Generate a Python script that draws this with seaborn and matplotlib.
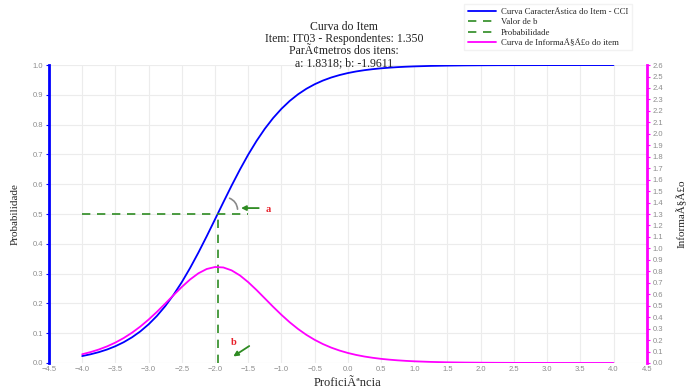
import matplotlib
matplotlib.use("Agg")
import matplotlib.pyplot as plt
import pandas as pd
import seaborn as sns


# values
theta = [-4.0, -3.875, -3.75, -3.625, -3.5, -3.375, -3.25, -3.125, -3.0,
         -2.875, -2.75, -2.625, -2.5, -2.375, -2.25, -2.125, -2.0, -1.875,
         -1.75, -1.625, -1.5, -1.375, -1.25, -1.125, -1.0, -0.875, -0.75,
         -0.625, -0.5, -0.375, -0.25, -0.125, 0.0, 0.125, 0.25, 0.375, 0.5,
         0.625, 0.75, 0.875, 1.0, 1.25, 1.5, 1.75, 2.0, 2.25, 2.5, 3.0, 3.5, 4.0]
prob = [0.0233, 0.0292, 0.0364, 0.0453, 0.0563, 0.0698, 0.0862, 0.1060, 0.1298,
        0.1579, 0.1908, 0.2286, 0.2714, 0.3190, 0.3707, 0.4255, 0.4822, 0.5393,
        0.5955, 0.6492, 0.6995, 0.7453, 0.7863, 0.8222, 0.8532, 0.8797, 0.9019,
        0.9204, 0.9356, 0.9481, 0.9583, 0.9665, 0.9732, 0.9786, 0.9829, 0.9863,
        0.9891, 0.9913, 0.9931, 0.9945, 0.9956, 0.9972, 0.9982, 0.9989, 0.9993,
        0.9996, 0.9997, 0.9999, 1.0, 1.0]
info = [0.0764, 0.0950, 0.1176, 0.1451, 0.1783, 0.2178, 0.2643, 0.3180, 0.3790,
        0.4462, 0.5180, 0.5917, 0.6636, 0.7290, 0.7828, 0.8203, 0.8378, 0.8337,
        0.8083, 0.7642, 0.7053, 0.6370, 0.5638, 0.4905, 0.4203, 0.3551, 0.2969,
        0.2458, 0.2022, 0.1651, 0.1341, 0.1086, 0.0875, 0.0703, 0.0564, 0.0453,
        0.0362, 0.0290, 0.0232, 0.0185, 0.0147, 0.0094, 0.0059, 0.0037, 0.0024,
        0.0015, 0.0009, 0.0004, 0.0002, 0.0001]

b_value = -1.9611
prob_line_x = [-4.0, -1.5]
prob_line_y = [0.5, 0.5]
b_line_x = [b_value, b_value]
b_line_y = [0.0, 0.5]

x_ticks = [-4.5, -4.0, -3.5, -3.0, -2.5, -2.0, -1.5, -1.0, -0.5, 0.0,
           0.5, 1.0, 1.5, 2.0, 2.5, 3.0, 3.5, 4.0, 4.5]
left_ticks = [i / 10 for i in range(11)]
right_ticks = [i / 10 for i in range(27)]

title_lines = [
    "Curva do Item",
    "Item: IT03 - Respondentes: 1.350",
    "ParÃ¢metros dos itens:",
    "a: 1.8318; b: -1.9611",
]

BLUE = "#0000FF"
GREEN = "#2E8B22"
MAGENTA = "#FF00FF"
TICK_GREY = "#8c8c8c"
SERIF = ["Liberation Serif", "DejaVu Serif"]

sns.set_theme(style="white")
plt.rcParams["font.family"] = ["Liberation Sans", "DejaVu Sans"]
plt.rcParams["axes.unicode_minus"] = True

curves = pd.DataFrame({"theta": theta, "prob": prob, "info": info})

fig = plt.figure(figsize=(6.88, 3.92), dpi=100)
ax = fig.add_axes([0.0712, 0.074, 0.8688, 0.760])
ax2 = ax.twinx()

sns.lineplot(data=curves, x="theta", y="prob", color=BLUE, lw=1.3, ax=ax,
             label="Curva CaracterÃstica do Item - CCI", legend=False)
sns.lineplot(x=b_line_x, y=b_line_y, color=GREEN, lw=1.2, ax=ax,
             estimator=None, sort=False, linestyle=(0, (5, 4)),
             label="Valor de b", legend=False)
sns.lineplot(x=prob_line_x, y=prob_line_y, color=GREEN, lw=1.2, ax=ax,
             estimator=None, sort=False, linestyle=(0, (5, 4)),
             label="Probabilidade", legend=False)
sns.lineplot(data=curves, x="theta", y="info", color=MAGENTA, lw=1.3, ax=ax2,
             label="Curva de InformaÃ§Ã£o do item", legend=False)

ax.set_xlim(-4.5, 4.5)
ax.set_ylim(0, 1.0)
ax2.set_ylim(0, 2.6)
ax.set_xticks(x_ticks)
ax.set_yticks(left_ticks)
ax2.set_yticks(right_ticks)
ax.set_xticklabels([f"{t:.1f}".replace("-", "\u2212") for t in x_ticks])
ax.set_yticklabels([f"{t:.1f}" for t in left_ticks])
ax2.set_yticklabels([f"{t:.1f}" for t in right_ticks])

ax.grid(True, color="#ececec", lw=0.8)
ax.set_axisbelow(True)
for a in (ax, ax2):
    for s in a.spines.values():
        s.set_visible(False)
ax.spines["left"].set_visible(True)
ax.spines["left"].set_color(BLUE)
ax.spines["left"].set_linewidth(2)
ax2.spines["right"].set_visible(True)
ax2.spines["right"].set_color(MAGENTA)
ax2.spines["right"].set_linewidth(2)

ax.tick_params(axis="x", length=0, labelsize=5.5, labelcolor=TICK_GREY, pad=2)
ax.tick_params(axis="y", length=2.5, width=0.8, color=BLUE, labelsize=5.5,
               labelcolor=TICK_GREY, pad=1.5, left=True)
ax2.tick_params(axis="y", length=2.5, width=0.8, color=MAGENTA, labelsize=5.5,
                labelcolor=TICK_GREY, pad=1.5, right=True)

ax.set_xlabel("ProficiÃªncia", family=SERIF, fontsize=9, labelpad=3)
ax.set_ylabel("Probabilidade", family=SERIF, fontsize=8, labelpad=9.5)
ax2.set_ylabel("InformaÃ§Ã£o", family=SERIF, fontsize=8, labelpad=9.5,
               rotation=90)

# annotations for a and b
ax.annotate("", xy=(-1.66, 0.507), xytext=(-1.82, 0.556),
            arrowprops=dict(arrowstyle="-", color="#8a8a8a", lw=1.2,
                            connectionstyle="arc3,rad=-0.4"))
ax.annotate("", xy=(-1.65, 0.52), xytext=(-1.30, 0.52),
            arrowprops=dict(arrowstyle="-|>", color=GREEN, lw=1.3,
                            mutation_scale=7))
ax.text(-1.24, 0.515, "a", color="#e8202a", fontsize=7.5, family=SERIF,
        fontweight="bold", va="center", ha="left")
ax.annotate("", xy=(-1.76, 0.017), xytext=(-1.45, 0.062),
            arrowprops=dict(arrowstyle="-|>", color=GREEN, lw=1.3,
                            mutation_scale=7))
ax.text(-1.72, 0.068, "b", color="#e8202a", fontsize=7.5, family=SERIF,
        fontweight="bold", va="center", ha="center")

for i, line in enumerate(title_lines):
    fig.text(0.5, 1 - (27 + i * 12) / 392, line, family=SERIF, fontsize=8.5,
             ha="center", va="center", color="#222222")

handles = ax.get_lines()[:3] + ax2.get_lines()[:1]
labels = [h.get_label() for h in handles]
fig.legend(handles, labels, loc="upper right", bbox_to_anchor=(0.925, 1.0),
           prop={"family": SERIF, "size": 6.3}, frameon=True, framealpha=1,
           edgecolor="#f2f2f2", fancybox=False, handlelength=3.2,
           labelspacing=0.25, borderpad=0.4, handletextpad=0.6)

fig.savefig("out.png", dpi=100)
